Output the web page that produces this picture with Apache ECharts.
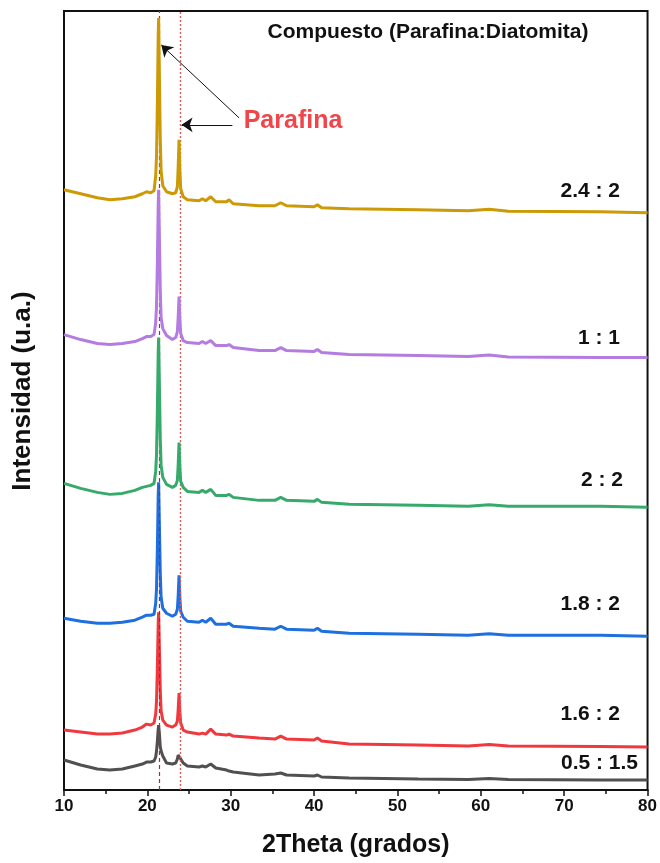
<!DOCTYPE html>
<html>
<head>
<meta charset="utf-8">
<script src="https://cdn.jsdelivr.net/npm/echarts@6/dist/echarts.min.js"></script>
<style>
  html, body { margin: 0; padding: 0; background: #fff; }
  #xrdChart { width: 660px; height: 863px; }
</style>
</head>
<body>
<div id="xrdChart"></div>
<script>
// 2Theta grid shared by every pattern (degrees)
var twoTheta = [10, 12, 14, 15.5, 17, 18.5, 19.4, 19.9, 20.4, 20.8, 21.0, 21.1, 21.2, 21.3, 21.35, 21.45, 21.55, 21.65, 21.85, 22.3, 23.0, 23.4, 23.6, 23.7, 23.8, 23.9, 24.0, 24.3, 24.8, 26.2, 26.6, 27.0, 27.6, 28.2, 29.5, 29.8, 30.3, 33.4, 35.3, 36.0, 36.7, 40.0, 40.4, 40.9, 44.2, 52.5, 58.5, 61.0, 63.3, 74.4, 80];

// intensities (a.u., stacked with an offset as in the figure)
var gray05 = [30, 25, 21, 20, 21, 24, 26, 28, 28, 29, 33, 39, 49, 61, 65, 56, 43, 39, 34, 27, 26, 27, 31, 35, 37, 35, 31, 27, 24, 23, 24, 23, 26, 22, 20, 19, 18, 15, 16, 17, 15, 14, 15, 13, 12, 11, 10.5, 11.5, 10.5, 10, 10];
var red16 = [60, 58, 56, 56, 57, 60, 63, 66, 65, 67, 76, 89, 123, 167, 178, 139, 100, 79, 70, 65, 63, 65, 69, 81, 97, 78, 67, 60, 58, 56, 57, 56, 61, 56, 55, 56, 54, 52, 51, 54, 51, 50, 52, 49, 46, 45, 44, 45.5, 44, 43.5, 43];
var blue18 = [172, 169, 167, 167, 168, 170, 173, 175, 175, 176, 187, 202, 242, 295, 308, 262, 217, 193, 182, 177, 174, 176, 181, 195, 215, 192, 179, 173, 169, 168, 170, 168, 172, 166, 166, 167, 164, 162, 161, 164, 161, 160, 162, 159, 157, 156, 155, 156.5, 155, 155, 154];
var green22 = [307, 302, 298, 296, 297, 300, 303, 304, 305, 307, 319, 336, 380, 438, 453, 402, 351, 325, 313, 306, 303, 305, 310, 326, 348, 323, 309, 303, 299, 298, 300, 298, 301, 295, 295, 296, 293, 290, 290, 293, 290, 289, 291, 288, 286, 285, 284, 285.5, 284, 284, 283];
var purple11 = [456, 451, 447, 446, 447, 449, 452, 454, 454, 456, 468, 485, 528, 586, 601, 550, 500, 473, 462, 455, 451, 453, 459, 474, 494, 471, 457, 450, 448, 447, 449, 447, 450, 445, 445, 446, 443, 440, 440, 443, 440, 439, 441, 438, 436, 435, 434, 435.5, 433.5, 433, 433];
var gold242 = [601, 597, 593, 591, 592, 594, 597, 599, 598, 600, 615, 635, 687, 756, 773, 712, 651, 620, 605, 599, 597, 598, 604, 625, 651, 621, 602, 594, 591, 590, 592, 590, 594, 589, 589, 591, 587, 585, 585, 588, 585, 584, 586, 583, 582, 581, 580, 581.5, 579.5, 579, 578];

var sampleNames = ["0.5 : 1.5", "1.6 : 2", "1.8 : 2", "2 : 2", "1 : 1", "2.4 : 2"];
var sampleData = [gray05, red16, blue18, green22, purple11, gold242];
var sampleColors = ["#505050", "#f0393f", "#1e6fe0", "#37a96b", "#b47be0", "#cc9a06"];
var xTicks = [10, 20, 30, 40, 50, 60, 70, 80];
var paraffinPeaks = [21.4, 24.0];

function pairs(arr) {
  return twoTheta.map(function (t, i) { return [t, arr[i]]; });
}

var font = '"Liberation Sans", Arial, sans-serif';
var myChart = echarts.init(document.getElementById("xrdChart"));

var series = sampleData.map(function (d, i) {
  return {
    name: sampleNames[i],
    type: "line",
    data: pairs(d),
    symbol: "none",
    silent: true,
    lineStyle: { color: sampleColors[i], width: 3 },
    z: 2 + i
  };
});

// dashed reference lines + arrows, drawn on top of the patterns
series.push({
  type: "line",
  data: [],
  silent: true,
  z: 20,
  markLine: {
    silent: true,
    symbol: "none",
    label: { show: false },
    animation: false,
    data: [
      { xAxis: paraffinPeaks[0], lineStyle: { color: "#b02828", type: [4, 3], width: 1.2 } },
      { xAxis: paraffinPeaks[1], lineStyle: { color: "#e05a5a", type: [2, 2], width: 1.4 } },
      [
        { coord: [31.0, 673], symbol: "none" },
        { coord: [21.67, 746], symbol: "arrow", symbolSize: 11, lineStyle: { color: "#111", type: "solid", width: 1 } }
      ],
      [
        { coord: [30.2, 666], symbol: "none" },
        { coord: [24.1, 666], symbol: "arrow", symbolSize: 11, lineStyle: { color: "#111", type: "solid", width: 1 } }
      ]
    ]
  }
});

var labelPos = [[638, 763], [620, 714], [620, 604], [623, 480], [620, 338], [620, 191]];
var graphics = sampleNames.map(function (n, i) {
  return {
    type: "text",
    style: {
      x: labelPos[i][0], y: labelPos[i][1], text: n,
      textAlign: "right", textVerticalAlign: "middle",
      font: "bold 21px " + font, fill: "#111"
    }
  };
});
graphics.push({
  type: "text",
  style: { x: 428, y: 32, text: "Compuesto (Parafina:Diatomita)", textAlign: "center", textVerticalAlign: "middle", font: "bold 21px " + font, fill: "#111" }
});
graphics.push({
  type: "text",
  style: { x: 293, y: 121, text: "Parafina", textAlign: "center", textVerticalAlign: "middle", font: "bold 25px " + font, fill: "#f0454a" }
});
// y axis title, rotated
graphics.push({
  type: "text",
  x: 23, y: 391, rotation: Math.PI / 2,
  style: { x: 0, y: 0, text: "Intensidad (u.a.)", textAlign: "center", textVerticalAlign: "middle", font: "bold 26px " + font, fill: "#111" }
});

myChart.setOption({
  animation: false,
  grid: {
    left: 64, right: 10, top: 11, bottom: 72,
    show: true, borderColor: "#111", borderWidth: 2
  },
  xAxis: {
    type: "value",
    min: xTicks[0],
    max: xTicks[xTicks.length - 1],
    interval: 10,
    name: "2Theta (grados)",
    nameLocation: "middle",
    nameGap: 43,
    nameTextStyle: { fontFamily: font, fontWeight: "bold", fontSize: 25, color: "#111" },
    axisLine: { lineStyle: { color: "#111", width: 2 } },
    axisTick: { inside: false, length: 6, lineStyle: { color: "#111", width: 1.5 } },
    minorTick: { show: true, splitNumber: 2, length: 4, lineStyle: { color: "#111", width: 1.5 } },
    splitLine: { show: false },
    axisLabel: { fontFamily: font, fontWeight: "bold", fontSize: 17, color: "#111", margin: 8 }
  },
  yAxis: {
    type: "value",
    min: 0,
    max: 780,
    axisLine: { show: true, lineStyle: { color: "#111", width: 2 } },
    axisTick: { show: false },
    axisLabel: { show: false },
    splitLine: { show: false }
  },
  graphic: graphics,
  series: series
});
</script>
</body>
</html>
